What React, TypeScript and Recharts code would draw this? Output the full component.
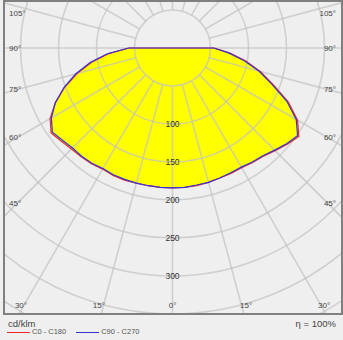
import React from "react";
import {
  RadarChart,
  Radar,
  PolarGrid,
  PolarAngleAxis,
  PolarRadiusAxis,
} from "recharts";

// gamma angles (degrees from nadir) where the curve was read, 5° step
const gammas = [0, 5, 10, 15, 20, 25, 30, 35, 40, 45, 50, 55, 60, 65, 70, 75, 80, 85, 90];

// luminous intensity, cd/klm
const c0Right = [184, 184, 184, 183, 182, 182, 182, 184, 186, 191, 197, 203, 190, 168, 141, 120, 98, 76, 55];
const c180Left = [184, 184, 184, 184, 185, 185, 184, 186, 187, 188, 191, 195, 186, 170, 151, 130, 108, 84, 57];
const c90Right = [184, 184, 183, 183, 182, 181, 181, 183, 185, 190, 196, 201, 188, 166, 139, 118, 96, 74, 54];
const c270Left = [184, 184, 184, 184, 184, 184, 183, 185, 186, 186, 189, 193, 184, 170, 152, 132, 110, 86, 58];

const gridRings = [50, 100, 150, 200, 250, 300, 350, 400];
const radiusTicks = [100, 150, 200, 250, 300];
const labelledGammas = [0, 15, 30, 45, 60, 75, 90, 105];
const spokeStep = 15;

const series = [
  { key: "c0", name: "C0 - C180", color: "#ec2b2b" },
  { key: "c90", name: "C90 - C270", color: "#3434d4" },
];

const FONT = "'Liberation Sans', Arial, sans-serif";
const PX_PER_CD = 0.76;
const MAX_CD = 420;
const W = 336;
const H = 311;
const CX = 167.5;
const CY = 46;

const step = gammas[1] - gammas[0];
const rows = Array.from({ length: 360 / step }, (_, i) => {
  const k = i * step;
  const r = gammas.indexOf(k);
  const l = gammas.indexOf(360 - k);
  return {
    k,
    c0: r >= 0 ? c0Right[r] : l >= 0 ? c180Left[l] : 0,
    c90: r >= 0 ? c90Right[r] : l >= 0 ? c270Left[l] : 0,
  };
});

const spokeAngles = Array.from({ length: 360 / spokeStep }, (_, i) => -90 + i * spokeStep);
// k positions (0..360 around the circle) of the labelled angles, both sides
const angleTicks = Array.from(new Set(labelledGammas.flatMap((g) => [g, (360 - g) % 360]))).sort((a, b) => a - b);

// k runs 0..360 counter-clockwise from nadir
const chartProps = {
  width: W,
  height: H,
  data: rows,
  cx: CX,
  cy: CY,
  outerRadius: MAX_CD * PX_PER_CD,
  startAngle: -90,
  endAngle: 270,
  margin: { top: 0, right: 0, bottom: 0, left: 0 },
};

const layer: React.CSSProperties = { position: "absolute", left: 0, top: 0 };

// labels sit where the spoke meets the frame
const AngleTick = (props: any) => {
  const k = Number(props.payload.value);
  const gamma = k <= 180 ? k : 360 - k;
  if (k % spokeStep !== 0 || !labelledGammas.includes(gamma)) return null;
  const rad = (k * Math.PI) / 180;
  const dx = Math.sin(rad);
  const dy = Math.cos(rad);
  const xL = 10;
  const xR = 325;
  const yB = 298;
  const tSide = Math.abs(dx) < 1e-6 ? Infinity : dx < 0 ? (CX - xL) / -dx : (xR - CX) / dx;
  const tBottom = dy > 1e-6 ? (yB - CY) / dy : Infinity;
  let x: number;
  let y: number;
  let anchor: "start" | "middle" | "end";
  if (tBottom < tSide) {
    x = CX + dx * tBottom;
    y = 303;
    anchor = dx < -0.01 ? "end" : dx > 0.01 ? "start" : "middle";
  } else {
    y = Math.max(11, CY + dy * tSide - 3 * Math.max(dy, 0));
    x = dx < 0 ? 4 : 331;
    anchor = dx < 0 ? "start" : "end";
  }
  return (
    <text x={x} y={y} textAnchor={anchor} dominantBaseline="central" fontSize={8} fill="#444" fontFamily={FONT}>
      {gamma}°
    </text>
  );
};

const RadiusTick = (props: any) => {
  const { x, y, payload } = props;
  return (
    <text x={x} y={y} textAnchor="middle" dominantBaseline="central" fontSize={8.5} fill="#333" fontFamily={FONT}>
      {payload.value}
    </text>
  );
};

export default function App() {
  return (
    <div style={{ position: "absolute", left: 0, top: 0, width: 343, height: 340, background: "#efefef", fontFamily: FONT }}>
      <div
        style={{
          position: "absolute",
          left: 3,
          top: 0,
          width: 340,
          height: 315,
          boxSizing: "border-box",
          border: "2px solid #808080",
          overflow: "hidden",
        }}
      >
        {/* yellow area */}
        <div style={layer}>
          <RadarChart {...chartProps} innerRadius={0}>
            <PolarAngleAxis dataKey="k" type="number" domain={[0, 360]} tick={false} axisLine={false} tickLine={false} />
            <PolarRadiusAxis angle={-90} domain={[0, MAX_CD]} tick={false} axisLine={false} tickLine={false} />
            <Radar dataKey="c0" stroke="none" fill="#ffff00" fillOpacity={1} isAnimationActive={false} />
          </RadarChart>
        </div>
        {/* grid on top of the fill, spokes start at the first ring */}
        <div style={layer}>
          <RadarChart {...chartProps} innerRadius={gridRings[0] * PX_PER_CD}>
            <PolarGrid
              gridType="circle"
              polarAngles={spokeAngles}
              polarRadius={gridRings.map((v) => v * PX_PER_CD)}
              stroke="#c2c2c2"
              strokeOpacity={0.7}
              strokeWidth={1.6}
            />
          </RadarChart>
        </div>
        {/* curves and labels */}
        <div style={layer}>
          <RadarChart {...chartProps} innerRadius={0}>
            <PolarAngleAxis
              dataKey="k"
              type="number"
              domain={[0, 360]}
              ticks={angleTicks}
              tick={AngleTick}
              axisLine={false}
              tickLine={false}
            />
            <PolarRadiusAxis
              angle={-90}
              domain={[0, MAX_CD]}
              ticks={radiusTicks}
              tick={RadiusTick}
              axisLine={false}
              tickLine={false}
            />
            {series.map((s) => (
              <Radar
                key={s.key}
                name={s.name}
                dataKey={s.key}
                stroke={s.color}
                strokeWidth={1.2}
                fill="none"
                fillOpacity={0}
                isAnimationActive={false}
              />
            ))}
          </RadarChart>
        </div>
      </div>
      <div style={{ position: "absolute", left: 8, top: 318, fontSize: 9.5, color: "#444", lineHeight: "11px" }}>cd/klm</div>
      <div style={{ position: "absolute", right: 7, top: 318, fontSize: 9.5, color: "#444", lineHeight: "11px" }}>η = 100%</div>
      <div style={{ position: "absolute", left: 7, top: 327, display: "flex", alignItems: "center", fontSize: 7.5, color: "#555", lineHeight: "10px" }}>
        {series.map((s, i) => (
          <div key={s.key} style={{ display: "flex", alignItems: "center", marginLeft: i === 0 ? 0 : 10 }}>
            <div style={{ width: 23, height: 1, background: s.color, marginRight: 2 }} />
            <span>{s.name}</span>
          </div>
        ))}
      </div>
    </div>
  );
}
